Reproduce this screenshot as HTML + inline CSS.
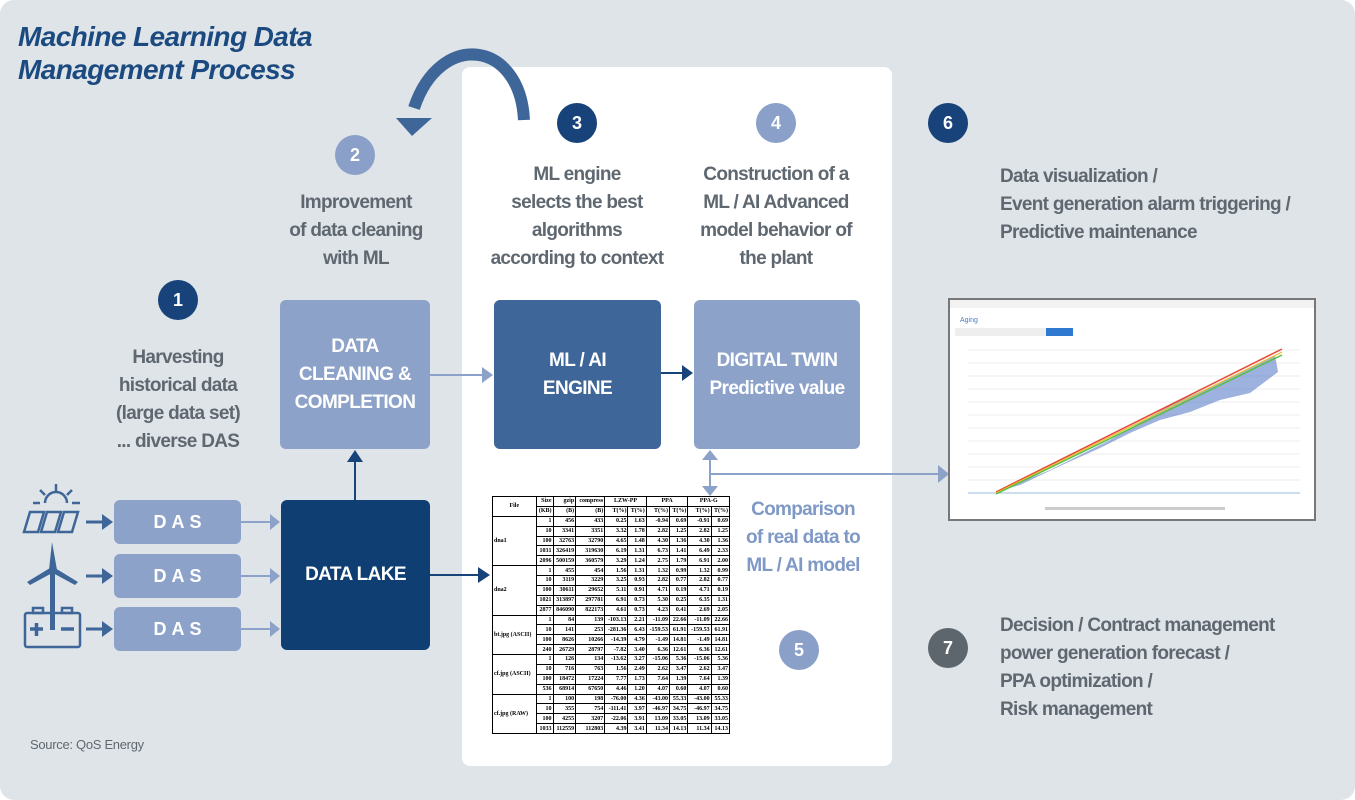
<!DOCTYPE html>
<html><head><meta charset="utf-8"><style>
*{margin:0;padding:0;box-sizing:border-box}
body{width:1355px;height:800px;overflow:hidden;background:#fff;font-family:"Liberation Sans Narrow","Liberation Sans",sans-serif;position:relative}
#bg{position:absolute;left:0;top:0;width:1355px;height:800px;background:#dfe4e8;border-radius:14px}
.abs{position:absolute}
.panel{position:absolute;left:462px;top:67px;width:430px;height:699px;background:#fff;border-radius:8px}
.title{left:18px;top:20px;font-family:"Liberation Sans",sans-serif;font-style:italic;font-weight:bold;font-size:28px;line-height:33px;color:#1b4a80;letter-spacing:-0.6px}
.c{position:absolute;width:40px;height:40px;border-radius:50%;color:#fff;font-weight:bold;font-size:18px;text-align:center;line-height:40px;font-family:"Liberation Sans",sans-serif}
.dk{background:#17437a}.lt{background:#8aa0c8}.gr{background:#5d666d}
.txt{position:absolute;color:#5f6870;font-weight:bold;font-size:19px;line-height:28px;white-space:nowrap;letter-spacing:-0.7px}
.ctr{text-align:center;transform:translateX(-50%)}
.box{position:absolute;border-radius:6px;color:#fff;font-weight:bold;font-size:19px;line-height:28px;display:flex;align-items:center;justify-content:center;text-align:center;letter-spacing:-0.6px}
.l{background:#8da2c9}.m{background:#3f6699}.d{background:#0f3e72}
.das{position:absolute;left:114px;width:127px;height:44px;background:#8da2c9;border-radius:6px;color:#fff;font-weight:bold;font-size:18px;letter-spacing:5px;text-align:center;line-height:44px;padding-left:5px}
table{border-collapse:collapse;position:absolute;left:492px;top:496px;width:238px;height:238px;font-family:"Liberation Serif",serif;font-size:6px;font-weight:bold;color:#000;background:#fff}
td{border:1px solid #000;text-align:right;padding:0 1px;line-height:8px}
</style></head><body>
<div id="bg"></div>
<div class="panel"></div>
<div class="abs title">Machine Learning Data<br>Management Process</div>

<svg class="abs" style="left:0;top:0" width="1355" height="800">
<path d="M524,120 C520,40 440,30 414,108" fill="none" stroke="#3f6699" stroke-width="12"/>
<polygon points="396,118 432,118 412,136" fill="#3f6699"/>
<g fill="#3f6699" stroke="#3f6699" stroke-width="3">
<line x1="86" y1="522" x2="104" y2="522"/><polygon points="102,514 113,522 102,530" stroke="none"/>
<line x1="86" y1="576" x2="104" y2="576"/><polygon points="102,568 113,576 102,584" stroke="none"/>
<line x1="86" y1="629" x2="104" y2="629"/><polygon points="102,621 113,629 102,637" stroke="none"/>
</g>
<g fill="#8da2c9" stroke="#8da2c9" stroke-width="2">
<line x1="241" y1="522" x2="272" y2="522"/><polygon points="270,514 280,522 270,530" stroke="none"/>
<line x1="241" y1="576" x2="272" y2="576"/><polygon points="270,568 280,576 270,584" stroke="none"/>
<line x1="241" y1="629" x2="272" y2="629"/><polygon points="270,621 280,629 270,637" stroke="none"/>
<line x1="430" y1="375" x2="484" y2="375"/><polygon points="482,367 493,375 482,383" stroke="none"/>
<line x1="710" y1="458" x2="710" y2="488"/><polygon points="702,460 718,460 710,450" stroke="none"/><polygon points="702,486 718,486 710,496" stroke="none"/>
<line x1="710" y1="474" x2="940" y2="474"/><polygon points="938,465 949,474 938,483" stroke="none"/>
</g>
<g fill="#17437a" stroke="#17437a" stroke-width="2">
<line x1="661" y1="373" x2="684" y2="373"/><polygon points="682,365 693,373 682,381" stroke="none"/>
<line x1="355" y1="500" x2="355" y2="460"/><polygon points="347,462 363,462 355,450" stroke="none"/>
<line x1="430" y1="575" x2="480" y2="575"/><polygon points="478,567 490,575 478,583" stroke="none"/>
</g>
<g fill="none" stroke="#3f6699" stroke-width="2.5">
<path d="M45,503 a11,11 0 0 1 22,0"/>
<line x1="56" y1="484" x2="56" y2="491"/><line x1="40" y1="490" x2="45" y2="495"/><line x1="72" y1="490" x2="67" y2="495"/>
<line x1="33" y1="503" x2="40" y2="503"/><line x1="72" y1="503" x2="80" y2="503"/>
<polygon points="30,512 44,512 38,532 24,532"/><polygon points="47,512 61,512 55,532 41,532"/><polygon points="64,512 78,512 72,532 58,532"/>
</g>
<g fill="#3f6699">
<rect x="50" y="570" width="5" height="60"/>
<path d="M52,542 L57,570 L49,570 Z"/>
<path d="M50,568 L27,582 L30,585 L54,572 Z"/>
<path d="M55,568 L78,582 L75,585 L51,572 Z"/>
</g>
<g fill="none" stroke="#3f6699" stroke-width="2.5">
<rect x="25" y="613" width="55" height="34" rx="2"/>
<rect x="33" y="608" width="10" height="5"/><rect x="62" y="608" width="10" height="5"/>
</g>
<g stroke="#3f6699" stroke-width="3.5"><line x1="30" y1="629" x2="43" y2="629"/><line x1="36.5" y1="623" x2="36.5" y2="636"/><line x1="61" y1="629" x2="74" y2="629"/></g>
<rect x="949" y="299" width="366" height="221" fill="#fff" stroke="#777" stroke-width="2"/>
<rect x="950" y="300" width="364" height="8" fill="#f2f2f2"/>
<text x="960" y="322" font-size="7" fill="#4a7cc0" font-family="Liberation Sans">Aging</text>
<rect x="955" y="328" width="100" height="8" fill="#eee"/><rect x="1046" y="328" width="27" height="8" fill="#2f79d0"/>
<g stroke="#e6e6e6" stroke-width="0.7">
<line x1="968" y1="350" x2="1300" y2="350"/><line x1="968" y1="363" x2="1300" y2="363"/><line x1="968" y1="376" x2="1300" y2="376"/><line x1="968" y1="389" x2="1300" y2="389"/><line x1="968" y1="402" x2="1300" y2="402"/><line x1="968" y1="415" x2="1300" y2="415"/><line x1="968" y1="428" x2="1300" y2="428"/><line x1="968" y1="441" x2="1300" y2="441"/><line x1="968" y1="454" x2="1300" y2="454"/><line x1="968" y1="467" x2="1300" y2="467"/><line x1="968" y1="480" x2="1300" y2="480"/>
</g>
<line x1="968" y1="493" x2="1300" y2="493" stroke="#9bbbe0"/>
<polygon points="996,492 1050,470 1110,440 1170,405 1230,378 1275,355 1278,372 1250,393 1220,400 1190,412 1160,420 1130,433 1100,448 1060,466 1020,485" fill="#5b7fc8" opacity="0.6"/>
<line x1="996" y1="492" x2="1282" y2="349" stroke="#e84a3a" stroke-width="1.5"/>
<line x1="996" y1="493" x2="1282" y2="352" stroke="#e8c030" stroke-width="1.2"/>
<line x1="996" y1="494" x2="1282" y2="355" stroke="#58c040" stroke-width="1.5"/>
<rect x="1045" y="507" width="180" height="3" fill="#ccc"/>
</svg>

<div class="c dk" style="left:158px;top:280px">1</div>
<div class="c lt" style="left:335px;top:135px">2</div>
<div class="c dk" style="left:557px;top:103px">3</div>
<div class="c lt" style="left:756px;top:103px">4</div>
<div class="c lt" style="left:779px;top:630px">5</div>
<div class="c dk" style="left:928px;top:103px">6</div>
<div class="c gr" style="left:928px;top:628px">7</div>

<div class="txt ctr" style="left:178px;top:344px">Harvesting<br>historical data<br>(large data set)<br>... diverse DAS</div>
<div class="txt ctr" style="left:356px;top:189px">Improvement<br>of data cleaning<br>with ML</div>
<div class="txt ctr" style="left:577px;top:161px">ML engine<br>selects the best<br>algorithms<br>according to context</div>
<div class="txt ctr" style="left:776px;top:161px">Construction of a<br>ML / AI Advanced<br>model behavior of<br>the plant</div>
<div class="txt" style="left:1000px;top:163px">Data visualization /<br>Event generation alarm triggering /<br>Predictive maintenance</div>
<div class="txt" style="left:1000px;top:612px">Decision / Contract management<br>power generation forecast /<br>PPA optimization /<br>Risk management</div>
<div class="txt ctr" style="left:803px;top:496px;color:#7f99c6">Comparison<br>of real data to<br>ML / AI model</div>
<div class="abs" style="left:30px;top:737px;font-size:13px;color:#5f6870;letter-spacing:-0.3px">Source: QoS Energy</div>

<div class="box l" style="left:280px;top:300px;width:150px;height:149px">DATA<br>CLEANING &amp;<br>COMPLETION</div>
<div class="box m" style="left:494px;top:300px;width:167px;height:149px">ML / AI<br>ENGINE</div>
<div class="box l" style="left:694px;top:300px;width:166px;height:149px">DIGITAL TWIN<br>Predictive value</div>
<div class="box d" style="left:281px;top:500px;width:149px;height:150px">DATA LAKE</div>
<div class="das" style="top:500px">DAS</div>
<div class="das" style="top:554px">DAS</div>
<div class="das" style="top:607px">DAS</div>

<table>
<tr><td rowspan="2" style="text-align:center">File</td><td>Size</td><td>gzip</td><td>compress</td><td colspan="2" style="text-align:center">LZW-PP</td><td colspan="2" style="text-align:center">PPA</td><td colspan="2" style="text-align:center">PPA-G</td></tr>
<tr><td>(KB)</td><td>(B)</td><td>(B)</td><td>T(%)</td><td>T(%)</td><td>T(%)</td><td>T(%)</td><td>T(%)</td><td>T(%)</td></tr>
<tr><td rowspan="5" style="text-align:left">dna1</td><td>1</td><td>456</td><td>433</td><td>0.25</td><td>1.63</td><td>-0.94</td><td>0.69</td><td>-0.91</td><td>0.69</td></tr>
<tr><td>10</td><td>3341</td><td>3351</td><td>3.32</td><td>1.78</td><td>2.82</td><td>1.25</td><td>2.82</td><td>1.25</td></tr>
<tr><td>100</td><td>32763</td><td>32790</td><td>4.65</td><td>1.48</td><td>4.30</td><td>1.36</td><td>4.30</td><td>1.36</td></tr>
<tr><td>1031</td><td>326419</td><td>319630</td><td>6.19</td><td>1.31</td><td>6.73</td><td>1.41</td><td>6.49</td><td>2.33</td></tr>
<tr><td>2096</td><td>500159</td><td>360579</td><td>3.29</td><td>1.24</td><td>2.75</td><td>1.79</td><td>6.91</td><td>2.00</td></tr>
<tr><td rowspan="5" style="text-align:left">dna2</td><td>1</td><td>455</td><td>454</td><td>1.56</td><td>1.31</td><td>1.32</td><td>0.99</td><td>1.32</td><td>0.99</td></tr>
<tr><td>10</td><td>3119</td><td>3229</td><td>3.25</td><td>0.93</td><td>2.82</td><td>0.77</td><td>2.82</td><td>0.77</td></tr>
<tr><td>100</td><td>30611</td><td>29652</td><td>5.11</td><td>0.91</td><td>4.71</td><td>0.19</td><td>4.71</td><td>0.19</td></tr>
<tr><td>1021</td><td>313897</td><td>297781</td><td>6.91</td><td>0.73</td><td>5.30</td><td>0.25</td><td>6.35</td><td>1.31</td></tr>
<tr><td>2877</td><td>846090</td><td>822173</td><td>4.61</td><td>0.73</td><td>4.23</td><td>0.41</td><td>2.69</td><td>2.05</td></tr>
<tr><td rowspan="4" style="text-align:left">bt.jpg (ASCII)</td><td>1</td><td>84</td><td>139</td><td>-103.13</td><td>2.21</td><td>-11.09</td><td>22.66</td><td>-11.09</td><td>22.66</td></tr>
<tr><td>10</td><td>141</td><td>253</td><td>-281.36</td><td>6.43</td><td>-159.53</td><td>61.91</td><td>-159.53</td><td>61.91</td></tr>
<tr><td>100</td><td>8626</td><td>10266</td><td>-14.39</td><td>4.79</td><td>-1.49</td><td>14.81</td><td>-1.49</td><td>14.81</td></tr>
<tr><td>240</td><td>26729</td><td>28797</td><td>-7.82</td><td>3.40</td><td>6.36</td><td>12.61</td><td>6.36</td><td>12.61</td></tr>
<tr><td rowspan="4" style="text-align:left">cf.jpg (ASCII)</td><td>1</td><td>126</td><td>134</td><td>-13.62</td><td>3.27</td><td>-15.06</td><td>5.36</td><td>-15.06</td><td>5.36</td></tr>
<tr><td>10</td><td>716</td><td>763</td><td>1.56</td><td>2.49</td><td>2.62</td><td>3.47</td><td>2.62</td><td>3.47</td></tr>
<tr><td>100</td><td>18472</td><td>17224</td><td>7.77</td><td>1.73</td><td>7.64</td><td>1.39</td><td>7.64</td><td>1.39</td></tr>
<tr><td>536</td><td>68914</td><td>67650</td><td>4.46</td><td>1.20</td><td>4.07</td><td>0.60</td><td>4.07</td><td>0.60</td></tr>
<tr><td rowspan="4" style="text-align:left">cf.jpg (RAW)</td><td>1</td><td>100</td><td>198</td><td>-76.00</td><td>4.36</td><td>-43.00</td><td>55.33</td><td>-43.00</td><td>55.33</td></tr>
<tr><td>10</td><td>355</td><td>754</td><td>-111.41</td><td>3.97</td><td>-46.97</td><td>34.75</td><td>-46.97</td><td>34.75</td></tr>
<tr><td>100</td><td>4255</td><td>3207</td><td>-22.06</td><td>3.91</td><td>13.09</td><td>33.05</td><td>13.09</td><td>33.05</td></tr>
<tr><td>1033</td><td>112559</td><td>112803</td><td>4.39</td><td>3.41</td><td>11.34</td><td>14.13</td><td>11.34</td><td>14.13</td></tr>
</table>
</body></html>
